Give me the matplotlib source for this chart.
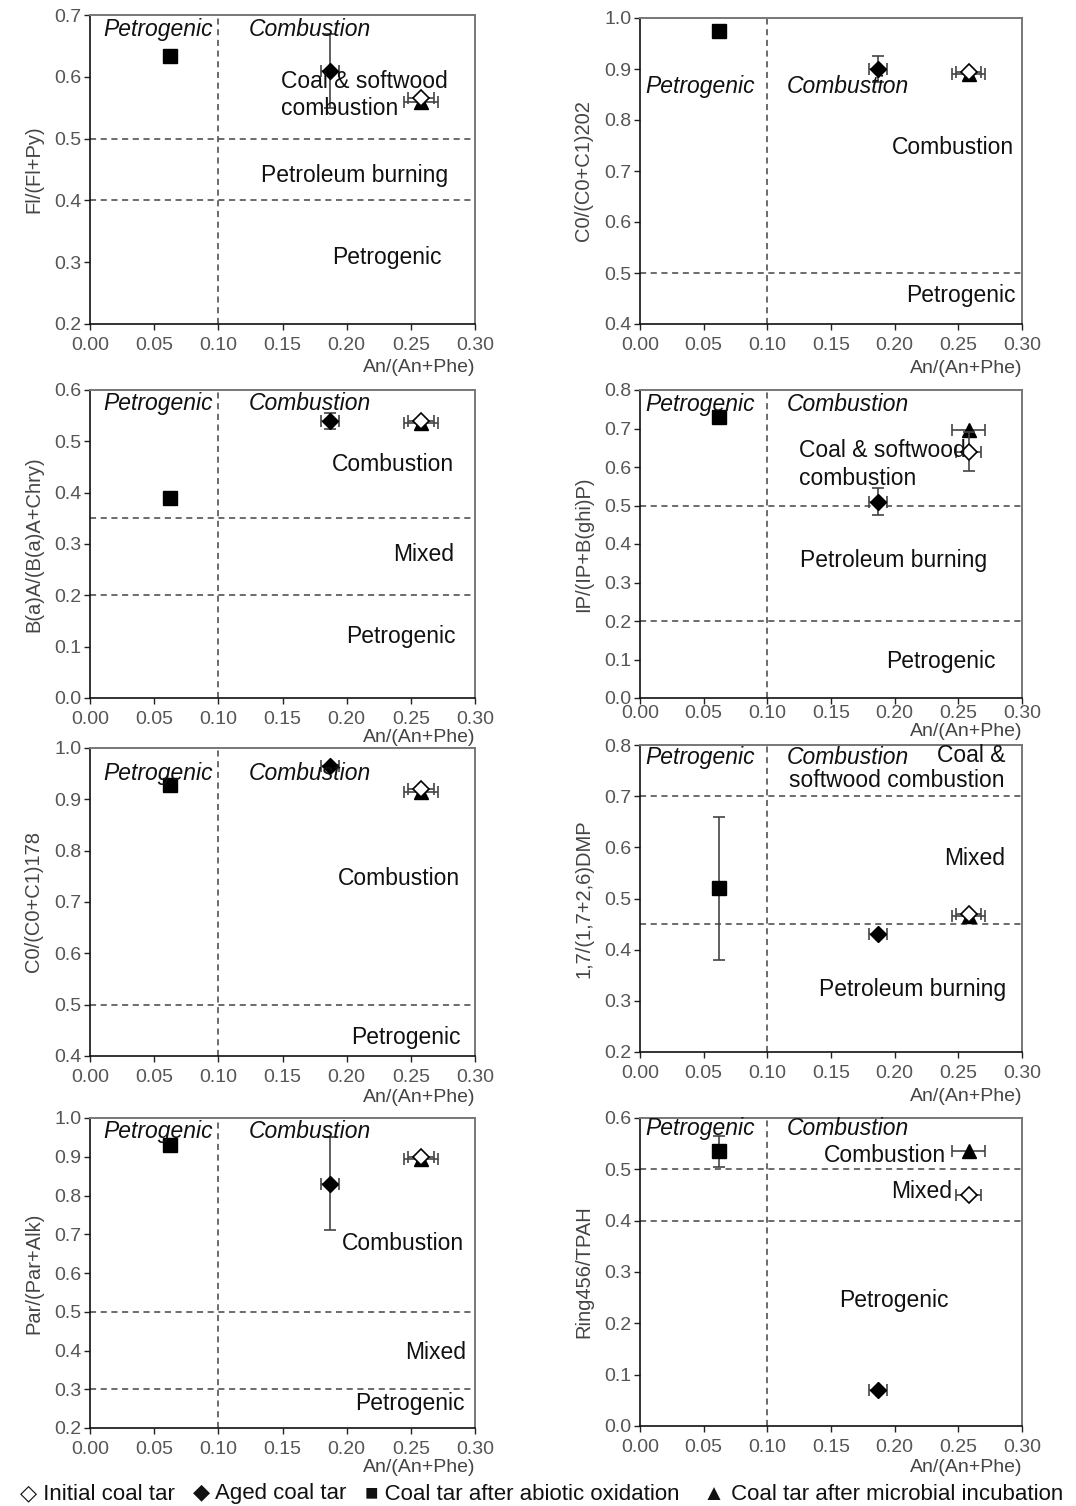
import matplotlib
matplotlib.use('Agg')
import matplotlib.pyplot as plt

plt.rcParams['font.family'] = ['Liberation Sans', 'DejaVu Sans']

# --- Data: x = An/(An+Phe) for each sample ---
X_INITIAL = 0.258
X_AGED = 0.187
X_ABIOTIC = 0.062
X_MICROBIAL = 0.258
XERR_INITIAL = 0.010
XERR_AGED = 0.007
XERR_MICROBIAL = 0.013

YLABELS = ['Fl/(Fl+Py)', 'C0/(C0+C1)202', 'B(a)A/(B(a)A+Chry)', 'IP/(IP+B(ghi)P)',
           'C0/(C0+C1)178', '1,7/(1,7+2,6)DMP', 'Par/(Par+Alk)', 'Ring456/TPAH']
YLIMS = [(0.2, 0.7), (0.4, 1.0), (0.0, 0.6), (0.0, 0.8),
         (0.4, 1.0), (0.2, 0.8), (0.2, 1.0), (0.0, 0.6)]

Y_INITIAL = [0.565, 0.895, 0.540, 0.640, 0.920, 0.470, 0.900, 0.450]
Y_AGED = [0.610, 0.900, 0.540, 0.510, 0.965, 0.430, 0.830, 0.070]
Y_ABIOTIC = [0.633, 0.975, 0.390, 0.730, 0.928, 0.520, 0.930, 0.535]
Y_MICROBIAL = [0.560, 0.890, 0.535, 0.695, 0.915, 0.465, 0.895, 0.535]
YERR_INITIAL = [0.0, 0.0, 0.0, 0.050, 0.0, 0.0, 0.0, 0.0]
YERR_AGED = [0.060, 0.025, 0.015, 0.035, 0.0, 0.0, 0.120, 0.0]
YERR_ABIOTIC = [0.0, 0.0, 0.0, 0.0, 0.0, 0.140, 0.0, 0.030]

HLINES = [[0.5, 0.4], [0.5], [0.35, 0.2], [0.5, 0.2], [0.5], [0.7, 0.45], [0.5, 0.3], [0.5, 0.4]]

# region labels: (x, y, text, ha)
REGIONS = [
    [(0.149, 0.592, 'Coal & softwood', 'left'), (0.149, 0.548, 'combustion', 'left'),
     (0.206, 0.440, 'Petroleum burning', 'center'), (0.231, 0.307, 'Petrogenic', 'center')],
    [(0.246, 0.747, 'Combustion', 'center'), (0.252, 0.455, 'Petrogenic', 'center')],
    [(0.236, 0.454, 'Combustion', 'center'), (0.260, 0.279, 'Mixed', 'center'),
     (0.242, 0.119, 'Petrogenic', 'center')],
    [(0.125, 0.644, 'Coal & softwood', 'left'), (0.125, 0.571, 'combustion', 'left'),
     (0.199, 0.356, 'Petroleum burning', 'center'), (0.236, 0.096, 'Petrogenic', 'center')],
    [(0.241, 0.745, 'Combustion', 'center'), (0.246, 0.437, 'Petrogenic', 'center')],
    [(0.260, 0.780, 'Coal &', 'center'), (0.202, 0.730, 'softwood combustion', 'center'),
     (0.263, 0.579, 'Mixed', 'center'), (0.214, 0.323, 'Petroleum burning', 'center')],
    [(0.244, 0.675, 'Combustion', 'center'), (0.269, 0.396, 'Mixed', 'center'),
     (0.249, 0.262, 'Petrogenic', 'center')],
    [(0.192, 0.526, 'Combustion', 'center'), (0.221, 0.456, 'Mixed', 'center'),
     (0.199, 0.245, 'Petrogenic', 'center')],
]
# y position (axes fraction) of the italic Petrogenic / Combustion headers
HEADER_Y = [0.953, 0.775, 0.955, 0.952, 0.918, 0.96, 0.955, 0.965]

# --- Layout (figure pixels) ---
W, H = 1076, 1506
BOXES = [(90, 15, 475, 324), (640, 18, 1022, 324),
         (90, 390, 475, 698), (640, 390, 1022, 698),
         (90, 748, 475, 1056), (640, 745, 1022, 1052),
         (90, 1118, 475, 1428), (640, 1118, 1022, 1426)]
XLABEL_OFF = [35, 36, 31, 25, 33, 36, 31, 33]  # px below the axis to top of x label
XTICK_PAD = [5, 5, 5, 1, 5, 5, 5, 5]

fig = plt.figure(figsize=(W / 100, H / 100), dpi=100)

for i in range(8):
    l, t, r, b = BOXES[i]
    ax = fig.add_axes([l / W, 1 - b / H, (r - l) / W, (b - t) / H])
    lo, hi = YLIMS[i]
    n = int(round((hi - lo) / 0.1)) + 1
    ax.set_xlim(0, 0.3)
    ax.set_ylim(lo, hi)
    ax.set_xticks([0, 0.05, 0.10, 0.15, 0.20, 0.25, 0.30])
    ax.set_xticklabels(['0.00', '0.05', '0.10', '0.15', '0.20', '0.25', '0.30'])
    ax.set_yticks([lo + 0.1 * k for k in range(n)])
    ax.set_yticklabels([f'{lo + 0.1 * k:.1f}' for k in range(n)])
    ax.tick_params(direction='out', length=4, width=1, labelsize=14, colors='#222222',
                   labelcolor='#555555')
    ax.tick_params(axis='x', pad=XTICK_PAD[i])
    ax.tick_params(axis='y', pad=2)
    for s in ['left', 'bottom']:
        ax.spines[s].set_color('#111111')
        ax.spines[s].set_linewidth(1.2)
    for s in ['top', 'right']:
        ax.spines[s].set_color('#777777')
        ax.spines[s].set_linewidth(1.4)

    ax.axvline(0.1, color='#444444', ls=(0, (4, 3)), lw=1.1, zorder=1)
    for yv in HLINES[i]:
        ax.axhline(yv, color='#444444', ls=(0, (4, 3)), lw=1.1, zorder=1)

    ekw = dict(ecolor='#444444', elinewidth=1.2, capsize=4, capthick=1.2, ls='none')
    ax.errorbar(X_MICROBIAL, Y_MICROBIAL[i], xerr=XERR_MICROBIAL, marker='^', ms=10,
                mfc='black', mec='black', zorder=3, **ekw)
    ax.errorbar(X_INITIAL, Y_INITIAL[i], xerr=XERR_INITIAL, yerr=YERR_INITIAL[i] or None,
                marker='D', ms=8, mfc='white', mec='black', mew=1.2, zorder=4, **ekw)
    ax.errorbar(X_AGED, Y_AGED[i], xerr=XERR_AGED, yerr=YERR_AGED[i] or None,
                marker='D', ms=8, mfc='black', mec='black', zorder=4, **ekw)
    ax.errorbar(X_ABIOTIC, Y_ABIOTIC[i], yerr=YERR_ABIOTIC[i] or None, marker='s', ms=10,
                mfc='black', mec='black', zorder=4, **ekw)

    ax.text(0.053 if i % 2 == 0 else 0.047, lo + HEADER_Y[i] * (hi - lo), 'Petrogenic',
            style='italic', ha='center', va='center', fontsize=16.5, color='#111111', zorder=5)
    ax.text(0.171 if i % 2 == 0 else 0.163, lo + HEADER_Y[i] * (hi - lo), 'Combustion',
            style='italic', ha='center', va='center', fontsize=16.5, color='#111111', zorder=5)
    for (tx, ty, txt, ha) in REGIONS[i]:
        ax.text(tx, ty, txt, ha=ha, va='center', fontsize=16.5, color='#111111', zorder=5)

    ax.set_ylabel(YLABELS[i], fontsize=14.5, color='#444444', labelpad=8)
    ax.set_xlabel('An/(An+Phe)', fontsize=14, color='#444444')
    ax.xaxis.set_label_coords(1.0, -XLABEL_OFF[i] / (b - t))
    ax.xaxis.label.set_ha('right')
    ax.xaxis.label.set_va('top')

# --- Bottom legend line ---
LEGEND = [(20, '\u25c7 Initial coal tar'), (193, '\u25c6 Aged coal tar'),
          (365, '\u25a0 Coal tar after abiotic oxidation'),
          (703, '\u25b2 Coal tar after microbial incubation')]
for px, txt in LEGEND:
    fig.text(px / W, 1 - 1494 / H, txt, ha='left', va='center', fontsize=16,
             color='#111111')

fig.savefig('out.png', dpi=100)
